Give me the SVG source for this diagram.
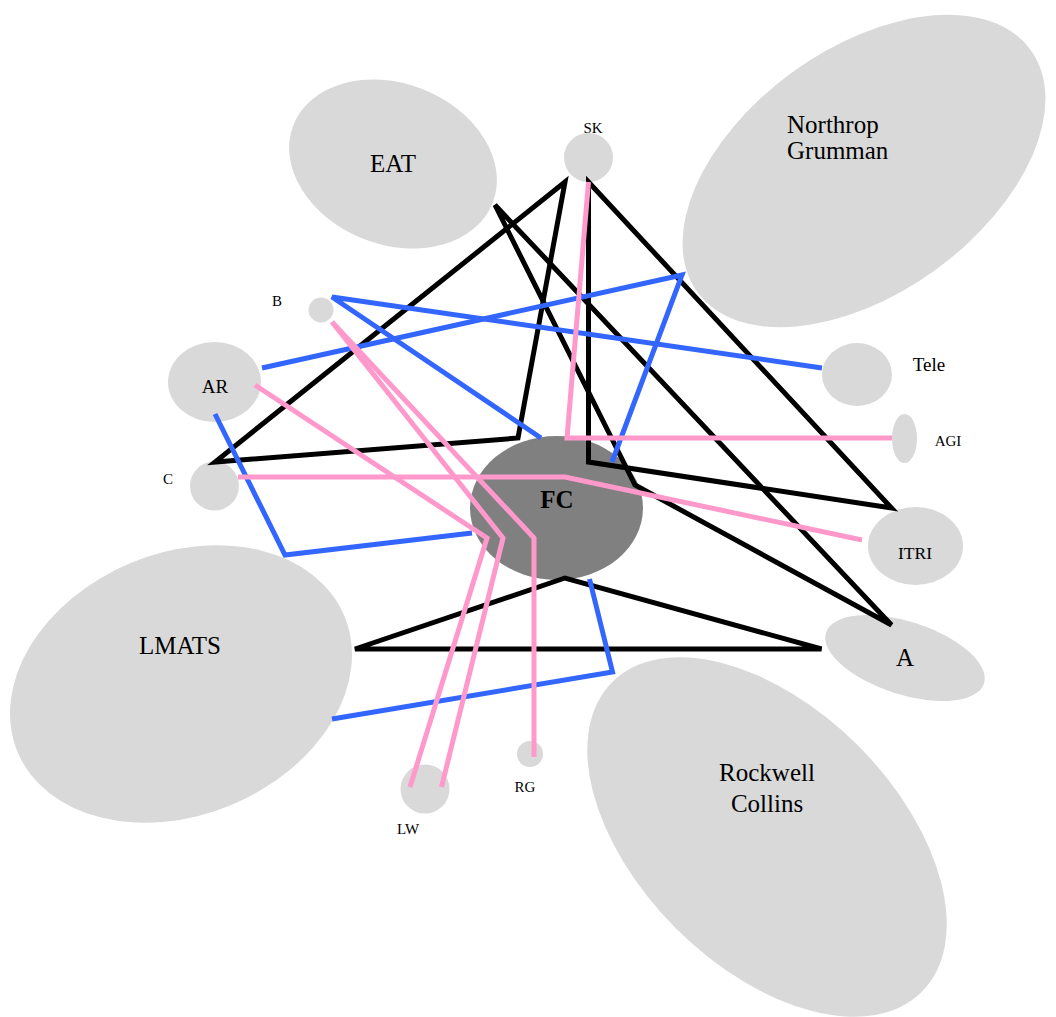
<svg xmlns="http://www.w3.org/2000/svg" width="1056" height="1017" viewBox="0 0 1056 1017">
<style>
.n{fill:#d9d9d9}
.fc{fill:#808080}
text{font-family:"Liberation Serif","Times New Roman",serif;fill:#000;text-anchor:middle}
.s{font-size:15px}
.m{font-size:19px}
.l{font-size:25px}
.b{font-size:25px;font-weight:bold}
.k{fill:none;stroke:#000;stroke-width:5;stroke-linejoin:miter;stroke-miterlimit:4}
.u{fill:none;stroke:#3366ff;stroke-width:5;stroke-linejoin:miter;stroke-miterlimit:4}
.p{fill:none;stroke:#ff99cc;stroke-width:5;stroke-linejoin:miter;stroke-miterlimit:4}
</style>
<rect width="1056" height="1017" fill="#fff"/>
<g id="nodes">
<g id="EAT"><ellipse class="n" cx="393" cy="164" rx="107" ry="80.5" transform="rotate(21.3 393 164)"/><text class="l" x="393" y="172">EAT</text></g>
<g id="NorthropGrumman"><ellipse class="n" cx="864" cy="171" rx="206" ry="122" transform="rotate(-36 864 171)"/><text class="l" style="text-anchor:start" x="787" y="133">Northrop</text><text class="l" style="text-anchor:start" x="787" y="159">Grumman</text></g>
<g id="LMATS"><ellipse class="n" cx="181" cy="684" rx="177" ry="131" transform="rotate(-22.6 181 684)"/><text class="l" x="180" y="654">LMATS</text></g>
<g id="RockwellCollins"><ellipse class="n" cx="767" cy="837" rx="219" ry="129" transform="rotate(45 767 837)"/><text class="l" x="767" y="781">Rockwell</text><text class="l" x="767" y="812">Collins</text></g>
<g id="A"><ellipse class="n" cx="905" cy="658" rx="83" ry="36.5" transform="rotate(17.9 905 658)"/><text class="l" x="905" y="666">A</text></g>
<g id="Tele"><ellipse class="n" cx="857" cy="374.5" rx="35" ry="31.5"/><text class="m" x="929" y="371">Tele</text></g>
<g id="AGI"><ellipse class="n" cx="904.5" cy="438.5" rx="12.5" ry="24.5"/><text class="s" x="948" y="446">AGI</text></g>
<g id="ITRI"><ellipse class="n" cx="915.5" cy="546" rx="47.5" ry="39"/><text class="s" style="font-size:17.5px" x="915" y="559">ITRI</text></g>
<g id="AR"><ellipse class="n" cx="214.5" cy="382" rx="46.5" ry="40"/><text class="m" x="215" y="393">AR</text></g>
<g id="B"><circle class="n" cx="321" cy="310" r="12.5"/><text class="s" x="277" y="306">B</text></g>
<g id="C"><circle class="n" cx="214.5" cy="486" r="24.5"/><text class="s" x="168" y="484">C</text></g>
<g id="SK"><circle class="n" cx="588.5" cy="157.5" r="24.5"/><text class="s" x="593" y="133">SK</text></g>
<g id="LW"><circle class="n" cx="425" cy="789" r="24.5"/><text class="s" x="408" y="834">LW</text></g>
<g id="RG"><circle class="n" cx="530" cy="754" r="13"/><text class="s" x="525" y="792">RG</text></g>
<g id="FC"><ellipse class="fc" cx="556.5" cy="508" rx="86.5" ry="72"/><text class="b" x="557" y="508">FC</text></g>
</g>
<g id="connectors">
<path class="k" d="M565,182 L518,438 L215,462 Z"/>
<path class="k" d="M588.5,182 L891.5,508 L588.5,462 Z"/>
<path class="k" d="M495,205 L635,485 L891.5,625 Z"/>
<path class="k" d="M355,649 L565,578 L821.5,649 Z"/>
<polyline class="u" points="262,368 682,275 612,462"/>
<polyline class="u" points="822,368 332,297 541,438"/>
<polyline class="u" points="215,414 285,555 472,533"/>
<polyline class="u" points="332,719 612.5,672 589.5,579"/>
<polyline class="p" points="588.5,182 567,438 892,438"/>
<polyline class="p" points="238,477 565,477 862,540"/>
<polyline class="p" points="255,385 487,538 410,787"/>
<polyline class="p" points="332,322 503,538 441.5,787"/>
<polyline class="p" points="332,322 534,538 534,757"/>
</g>
</svg>
